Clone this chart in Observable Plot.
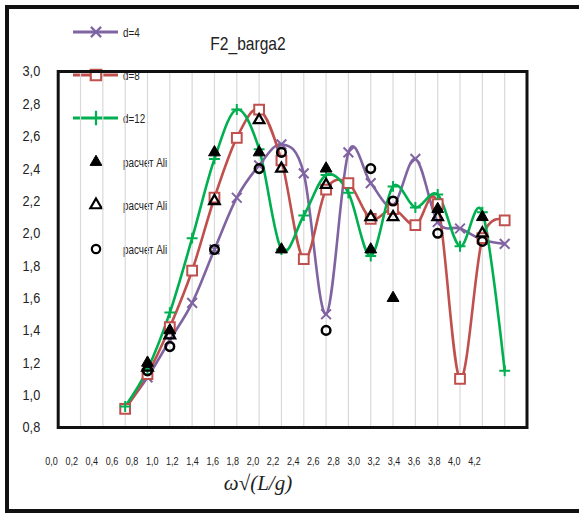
<!DOCTYPE html>
<html>
<head>
<meta charset="utf-8">
<script src="https://cdn.jsdelivr.net/npm/d3@7"></script>
<script src="https://cdn.jsdelivr.net/npm/@observablehq/plot@0.6"></script>
<style>
  body { margin: 0; background: #fff; }
  #chart { position: relative; width: 579px; height: 513px; overflow: hidden;
           font-family: "Liberation Sans", Arial, sans-serif; }
  #chart > svg { position: absolute; left: 0; top: 0; }
  #chart .outer { position: absolute; left: 5px; top: 5px; width: 590px; height: 508px;
                  border: 4px solid #111; box-sizing: border-box; }
</style>
</head>
<body>
<div id="chart"><div class="outer"></div></div>
<script>
// Dimensionless frequency ω√(L/g) for the computed curves
const omega = [0.6, 0.8, 1.0, 1.2, 1.4, 1.6, 1.8, 2.0, 2.2, 2.4, 2.6, 2.8, 3.0, 3.2, 3.4, 3.6, 3.8, 4.0];
const d4  = [0.92, 1.11, 1.34, 1.57, 1.90, 2.22, 2.42, 2.55, 2.37, 1.50, 2.50, 2.31, 2.17, 2.46, 2.07, 2.03, 1.96, 1.935];
const d8  = [0.915, 1.13, 1.42, 1.77, 2.22, 2.59, 2.765, 2.45, 1.84, 2.27, 2.31, 2.09, 2.15, 2.05, 2.18, 1.10, 1.97, 2.08];
const d12 = [0.93, 1.16, 1.51, 1.97, 2.46, 2.765, 2.52, 1.90, 2.11, 2.36, 2.25, 1.86, 2.29, 2.16, 2.24, 1.92, 2.13, 1.15];

// "расчет Ali" reference points
const aliOmega    = [0.8, 1.0, 1.4, 1.8, 2.0, 2.4, 2.8, 3.0, 3.4, 3.8];
const aliFilled   = [1.20, 1.40, 2.50, 2.50, 1.90, 2.40, 1.90, 1.60, 2.15, 2.10];
const aliOpen     = [1.17, 1.37, 2.20, 2.70, 2.40, 2.30, 2.10, 2.10, 2.10, 2.00];
const aliCircle   = [1.15, 1.30, 1.90, 2.40, 2.50, 1.40, 2.40, 2.20, 2.00, 1.95];

// Axis ticks
const xTicks = [0.0, 0.2, 0.4, 0.6, 0.8, 1.0, 1.2, 1.4, 1.6, 1.8, 2.0, 2.2, 2.4, 2.6, 2.8, 3.0, 3.2, 3.4, 3.6, 3.8, 4.0, 4.2];
const yTicks = [0.8, 1.0, 1.2, 1.4, 1.6, 1.8, 2.0, 2.2, 2.4, 2.6, 2.8, 3.0];

const titleText = "F2_barga2";
const xLabel = "ω√(L/g)";

const seriesNames  = ["d=4", "d=8", "d=12"];
const seriesColors = ["#8064a2", "#c0504d", "#00b050"];
const aliLabel = "расчет Ali";

const W = 579, H = 513;
const SANS = '"Liberation Sans", Arial, sans-serif';
const fmt = d => d.toFixed(1).replace(".", ",");

// Narrow the sans-serif labels horizontally (condensed look)
function condense(root, k = 0.8) {
  root.querySelectorAll("text").forEach(t => {
    if (t.getAttribute("data-keep")) return;
    const w = t.getComputedTextLength();
    if (w > 0) {
      t.setAttribute("textLength", (w * k).toFixed(2));
      t.setAttribute("lengthAdjust", "spacingAndGlyphs");
    }
  });
}

const toRows = (xs, ys, name) => xs.map((x, i) => ({x, y: ys[i], series: name}));
const curves = [
  ...toRows(omega, d4, seriesNames[0]),
  ...toRows(omega, d8, seriesNames[1]),
  ...toRows(omega, d12, seriesNames[2])
];
const filledRows = toRows(aliOmega, aliFilled, "filled");
const openRows   = toRows(aliOmega, aliOpen, "open");
const circleRows = toRows(aliOmega, aliCircle, "circle");

const chart = document.getElementById("chart");

// Background layer: title, legend and axis title (the plot frame sits on top of it)
const bg = d3.create("svg").attr("width", W).attr("height", H);
bg.append("text")
  .attr("x", 248).attr("y", 50)
  .attr("text-anchor", "middle")
  .attr("font-family", SANS).attr("font-size", 19).attr("fill", "#222")
  .text(titleText);

const legendRows = [
  {label: seriesNames[0], color: seriesColors[0], sym: d3.symbolTimes, line: true, fill: "none", size: 70},
  {label: seriesNames[1], color: seriesColors[1], sym: d3.symbolSquare, line: true, fill: "white", size: 110},
  {label: seriesNames[2], color: seriesColors[2], sym: d3.symbolPlus, line: true, fill: "none", size: 70},
  {label: aliLabel, color: "#000", sym: d3.symbolTriangle, line: false, fill: "#000", size: 60},
  {label: aliLabel, color: "#000", sym: d3.symbolTriangle, line: false, fill: "white", size: 55},
  {label: aliLabel, color: "#000", sym: d3.symbolCircle, line: false, fill: "white", size: 55}
];
const legendY = [32, 75, 118, 162, 205, 249];
legendRows.forEach((r, i) => {
  const g = bg.append("g").attr("transform", `translate(0,${legendY[i]})`);
  if (r.line) g.append("line").attr("x1", 73).attr("x2", 118).attr("stroke", r.color).attr("stroke-width", 3);
  g.append("path")
    .attr("transform", "translate(96,0)")
    .attr("d", d3.symbol(r.sym, r.size)())
    .attr("fill", r.fill)
    .attr("stroke", r.color)
    .attr("stroke-width", r.fill === "#000" ? 1 : 2.2);
  g.append("text")
    .attr("x", 123).attr("y", 4.5)
    .attr("font-family", SANS).attr("font-size", 12).attr("fill", "#222")
    .text(r.label);
});
bg.append("text")
  .attr("data-keep", "1")
  .attr("x", 258).attr("y", 490)
  .attr("text-anchor", "middle")
  .attr("font-family", '"Liberation Serif", "DejaVu Serif", serif')
  .attr("font-style", "italic").attr("font-size", 21).attr("fill", "#222")
  .text(xLabel);
chart.appendChild(bg.node());
condense(bg.node(), 0.82);

// Main plot
const plot = Plot.plot({
  width: W, height: H,
  marginLeft: 57.7, marginRight: 52.5, marginTop: 71, marginBottom: 86,
  x: {domain: [0, 4.2], axis: null},
  y: {domain: [0.8, 3.0], axis: null},
  style: {background: "transparent", fontFamily: SANS, color: "#222", overflow: "visible"},
  marks: [
    Plot.gridX(xTicks, {stroke: "#d9d9d9", strokeOpacity: 1, strokeWidth: 1.2}),
    Plot.axisY(yTicks, {tickSize: 0, tickPadding: 18, tickFormat: fmt, fontSize: 15.5, label: null}),
    Plot.line(curves, {x: "x", y: "y", z: "series", stroke: "series", curve: "cardinal", strokeWidth: 2.6}),
    Plot.dot(curves.filter(d => d.series === seriesNames[0]), {x: "x", y: "y", symbol: "times", r: 4.5, stroke: seriesColors[0], strokeWidth: 2}),
    Plot.dot(curves.filter(d => d.series === seriesNames[1]), {x: "x", y: "y", symbol: "square", r: 5.5, fill: "white", stroke: seriesColors[1], strokeWidth: 2}),
    Plot.dot(curves.filter(d => d.series === seriesNames[2]), {x: "x", y: "y", symbol: "plus", r: 3.6, stroke: seriesColors[2], strokeWidth: 2}),
    Plot.dot(filledRows, {x: "x", y: "y", symbol: "triangle", r: 4.4, fill: "#000", stroke: "#000", strokeWidth: 1}),
    Plot.dot(openRows, {x: "x", y: "y", symbol: "triangle", r: 3.9, fill: "none", stroke: "#000", strokeWidth: 2.3}),
    Plot.dot(circleRows, {x: "x", y: "y", symbol: "circle", r: 4.3, fill: "none", stroke: "#000", strokeWidth: 2.5}),
    Plot.frame({stroke: "#111", strokeWidth: 3})
  ],
  color: {domain: seriesNames, range: seriesColors}
});
chart.appendChild(plot);
condense(plot, 0.82);

// Tick labels along the bottom
const ticks = Plot.plot({
  width: W, height: H,
  marginTop: 0, marginBottom: 56, marginLeft: 0, marginRight: 0,
  x: {domain: [0, 4.2], range: [51, 474], axis: null},
  style: {background: "transparent", fontFamily: SANS, color: "#222"},
  marks: [
    Plot.axisX(xTicks, {tickSize: 0, tickPadding: 0, tickFormat: fmt, fontSize: 11, label: null})
  ]
});
chart.appendChild(ticks);
condense(ticks, 0.82);
</script>
</body>
</html>
